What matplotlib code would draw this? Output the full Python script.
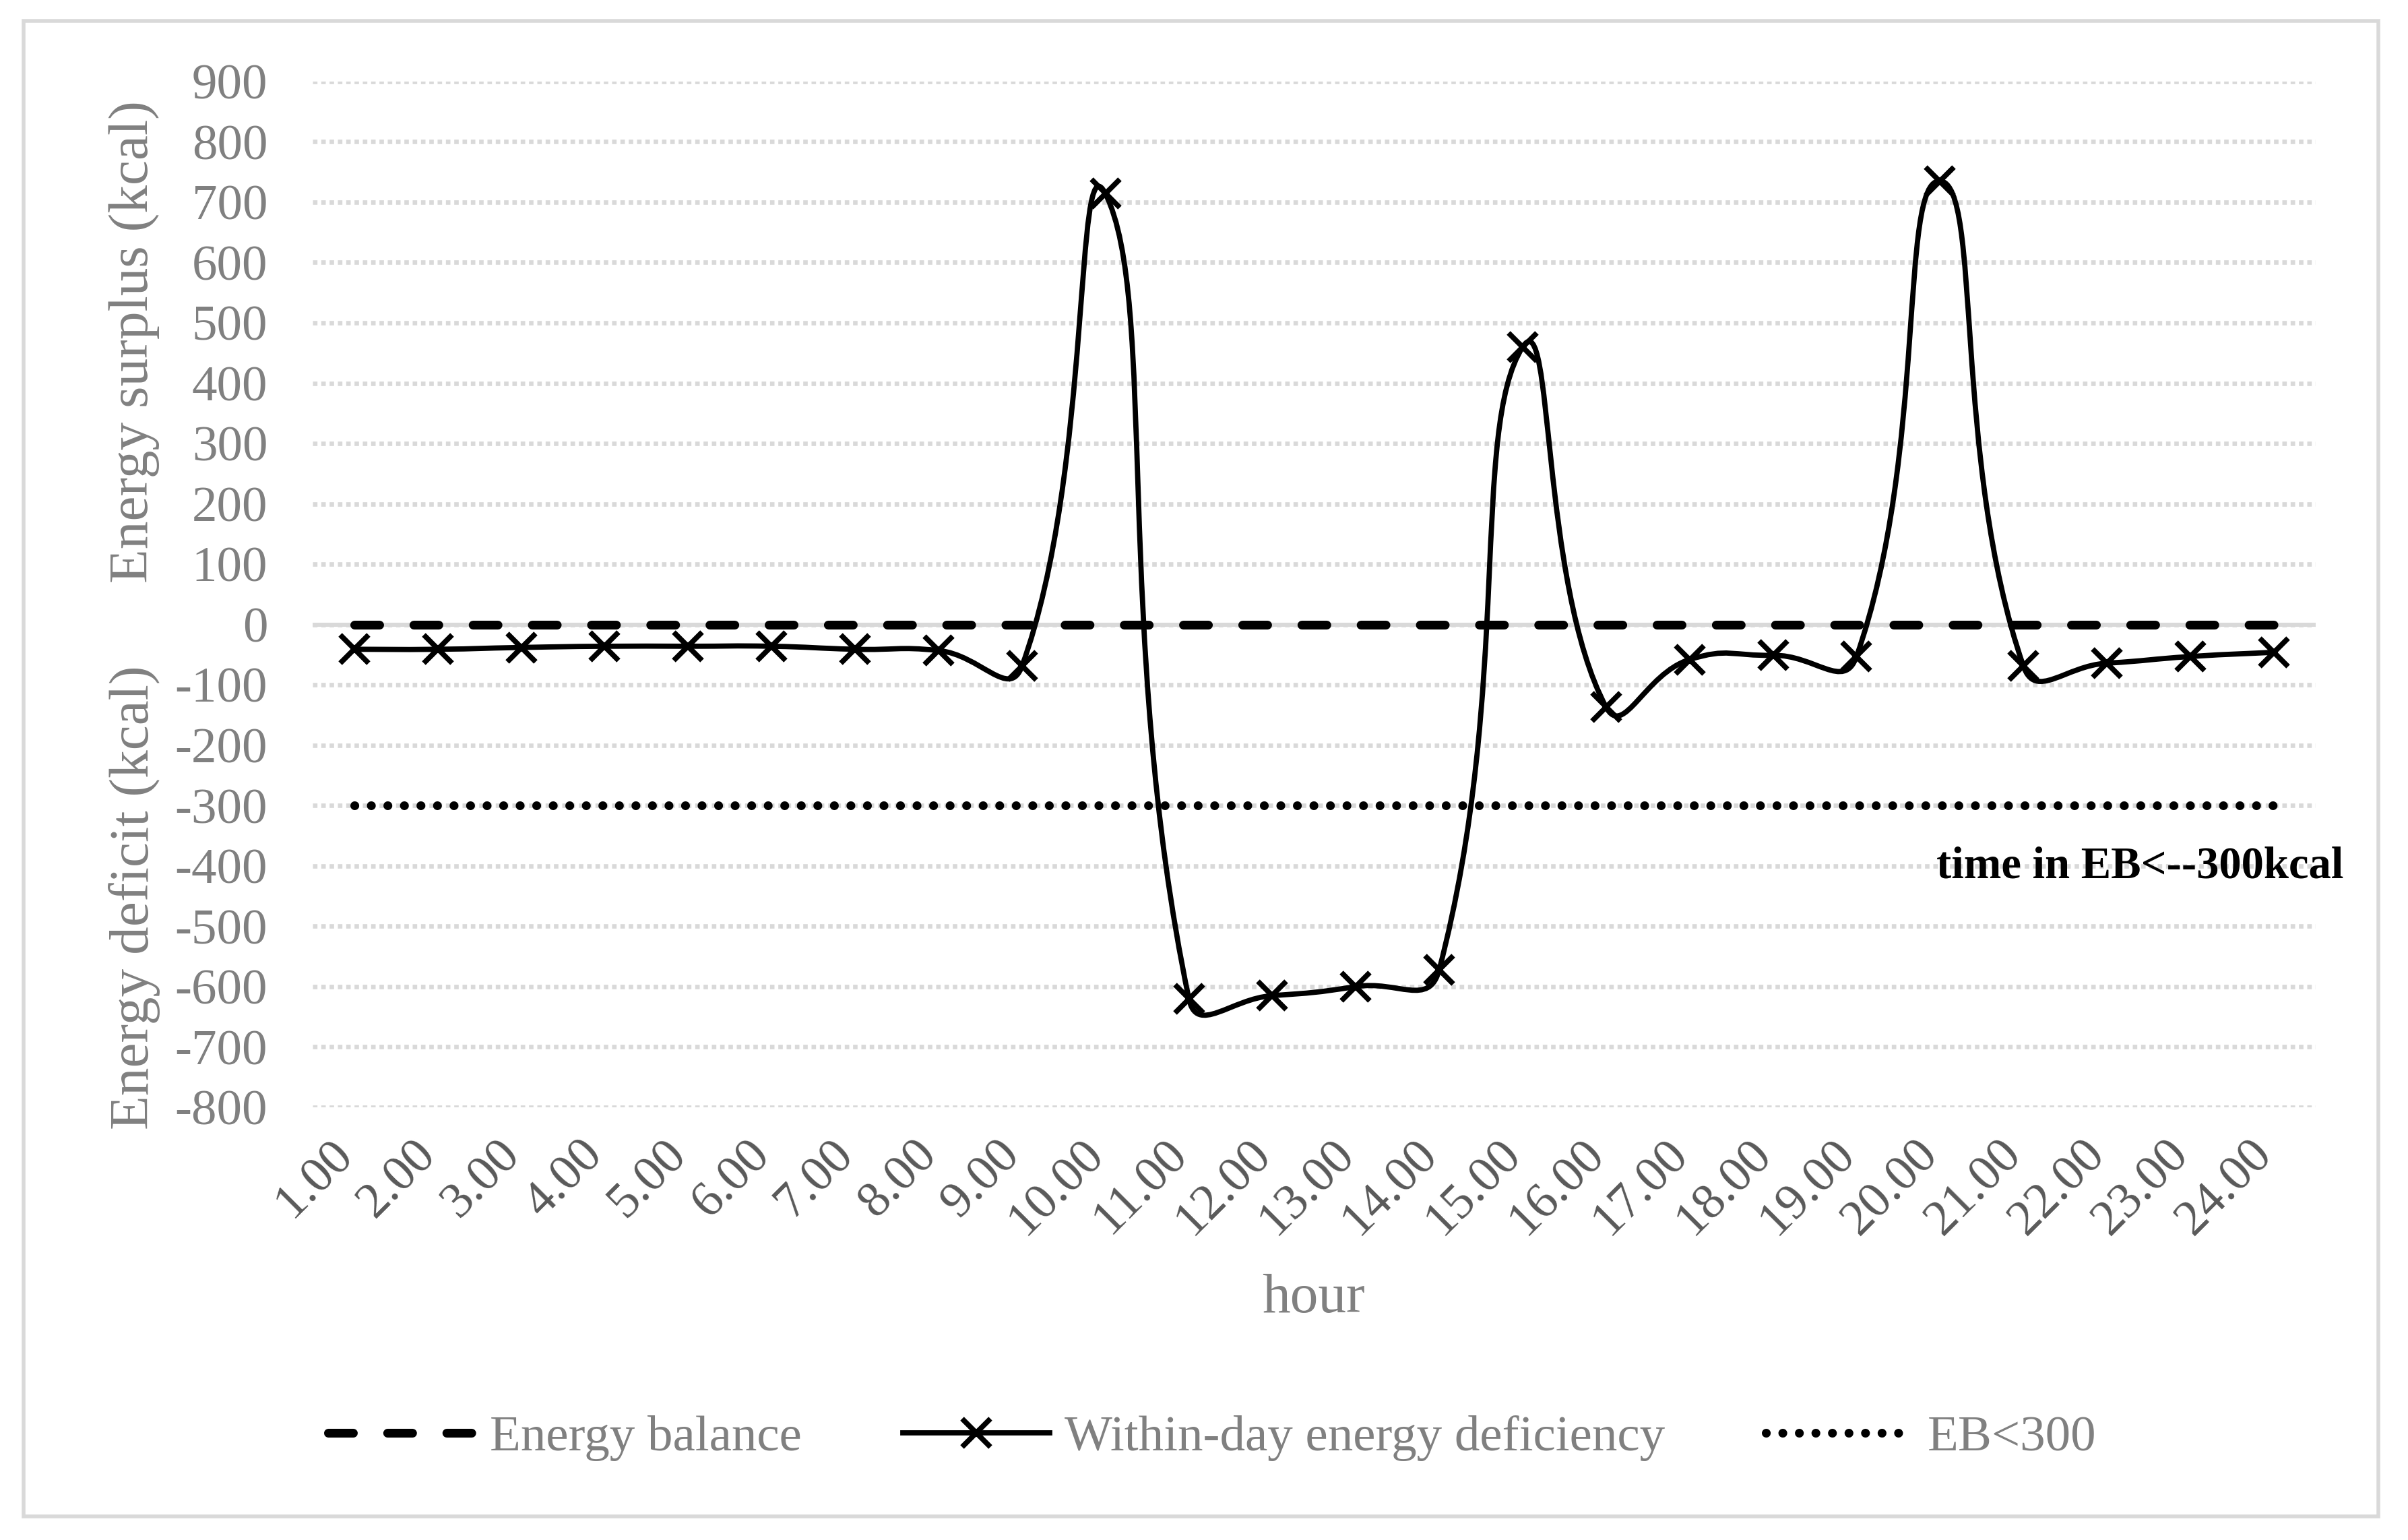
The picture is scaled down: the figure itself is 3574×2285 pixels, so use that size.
import numpy as np
import matplotlib
matplotlib.use("Agg")
import matplotlib.pyplot as plt
from matplotlib.path import Path
from matplotlib.patches import PathPatch, Rectangle
from matplotlib.lines import Line2D
from matplotlib.transforms import ScaledTranslation

# ---------------- data ----------------
hours = [f"{h}.00" for h in range(1, 25)]
within_day = [-41, -41, -38, -36, -36, -36, -41, -43, -69, 714,
              -620, -615, -600, -572, 460, -137, -58, -51, -53, 735,
              -69, -64, -53, -46]
energy_balance = [0] * 24
eb_threshold = [-300] * 24
y_ticks = list(range(-800, 901, 100))

# ---------------- figure ----------------
W, H, DPI = 3574, 2285, 200
fig = plt.figure(figsize=(W / DPI, H / DPI), dpi=DPI)
fig.patch.set_facecolor("white")
SERIF = ["Liberation Serif", "DejaVu Serif"]
plt.rcParams["font.family"] = SERIF

# outer chart border
fig.patches.append(Rectangle((0.0097, 0.0153), 0.9780, 0.9711, transform=fig.transFigure,
                             fill=False, edgecolor="#d9d9d9", linewidth=2.0, zorder=0))

ax = fig.add_axes([0.1298, 0.2810, 0.8318, 0.6661])
x = np.arange(1, 25)
ax.set_xlim(0.5, 24.5)
ax.set_ylim(-800, 900)
for s in ax.spines.values():
    s.set_visible(False)

# gridlines (dotted squares)
ax.set_yticks(y_ticks)
ax.set_yticklabels([str(v) for v in y_ticks])
ax.yaxis.grid(True, color="#d9d9d9", linewidth=2.4, linestyle=(0, (1, 0.85)))
ax.set_axisbelow(True)
ax.axhline(0, color="#d9d9d9", linewidth=2.2, zorder=1)

ax.tick_params(axis="y", length=0, pad=24, labelsize=27, labelcolor="#808080")
ax.set_xticks(x)
ax.set_xticklabels(hours, rotation=45, ha="right", va="top")
ax.tick_params(axis="x", length=0, pad=13, labelsize=27, labelcolor="#595959")
shift = ScaledTranslation(4 / 72, 0, fig.dpi_scale_trans)
for lbl in ax.get_xticklabels():
    lbl.set_transform(lbl.get_transform() + shift)

# ---- Energy balance (dashed)
ax.plot(x, energy_balance, color="black", linewidth=4.7, linestyle=(0, (2.83, 3.9)),
        dash_capstyle="round", zorder=3)

# ---- Within-day energy deficiency: smoothed curve (Excel-like bezier)
px_per_x = 123.9
px_per_y = 0.895


def smooth_path(xs, ys, k=0.5):
    P = np.column_stack([xs, ys]).astype(float)
    S = np.array([px_per_x, px_per_y])
    n = len(P)
    verts = [P[0]]
    codes = [Path.MOVETO]
    for i in range(n - 1):
        p0 = P[i - 1] if i > 0 else P[i]
        p1 = P[i]
        p2 = P[i + 1]
        p3 = P[i + 2] if i + 2 < n else P[i + 1]
        d01 = np.hypot(*((p1 - p0) * S))
        d12 = np.hypot(*((p2 - p1) * S))
        d23 = np.hypot(*((p3 - p2) * S))
        f1 = d12 / (d01 + d12) if (d01 + d12) > 0 else 0.0
        f2 = d12 / (d12 + d23) if (d12 + d23) > 0 else 0.0
        if i == 0:
            c1 = p1 + (p2 - p1) / 3.0
        else:
            c1 = p1 + (p2 - p0) * f1 * k
        if i + 2 >= n:
            c2 = p2 - (p2 - p1) / 3.0
        else:
            c2 = p2 - (p3 - p1) * f2 * k
        verts += [c1, c2, p2]
        codes += [Path.CURVE4] * 3
    return Path(verts, codes)


ax.add_patch(PathPatch(smooth_path(x, within_day), facecolor="none", edgecolor="black",
                       linewidth=2.8, zorder=4, capstyle="round", joinstyle="round"))
ax.plot(x, within_day, linestyle="none", marker="x", markersize=15, markeredgewidth=2.8,
        color="black", zorder=5)

# ---- EB<300 (round dots)
ax.plot(x, eb_threshold, color="black", linewidth=4.7, linestyle=(0, (0.01, 1.87)),
        dash_capstyle="round", zorder=6)

ax.text(24.84, -420, "time in EB<--300kcal", ha="right", va="baseline",
        fontsize=24, fontweight="bold", color="black", clip_on=False)

# axis titles
fig.text(0.0557, 0.778, "Energy surplus (kcal)", rotation=90, ha="center", va="center",
         fontsize=30, color="#808080")
fig.text(0.0557, 0.417, "Energy deficit (kcal)", rotation=90, ha="center", va="center",
         fontsize=30, color="#808080")
fig.text(0.5456, 0.148, "hour", ha="center", va="baseline", fontsize=30, color="#808080")

# legend
handles = [
    Line2D([], [], color="black", linewidth=4.7, linestyle=(0, (2.83, 3.9)), dash_capstyle="round"),
    Line2D([], [], color="black", linewidth=2.8, marker="x", markersize=15, markeredgewidth=2.8),
    Line2D([], [], color="black", linewidth=4.7, linestyle=(0, (0.01, 1.87)), dash_capstyle="round"),
]
labels = ["Energy balance", "Within-day energy deficiency", "EB<300"]
leg = fig.legend(handles, labels, loc="center", bbox_to_anchor=(0.5035, 0.066), ncol=3,
                 frameon=False, fontsize=27, handlelength=2.9, handletextpad=0.3,
                 columnspacing=2.0, borderpad=0, numpoints=1)
for t in leg.get_texts():
    t.set_color("#808080")

fig.savefig("out.png", dpi=DPI, facecolor="white")
